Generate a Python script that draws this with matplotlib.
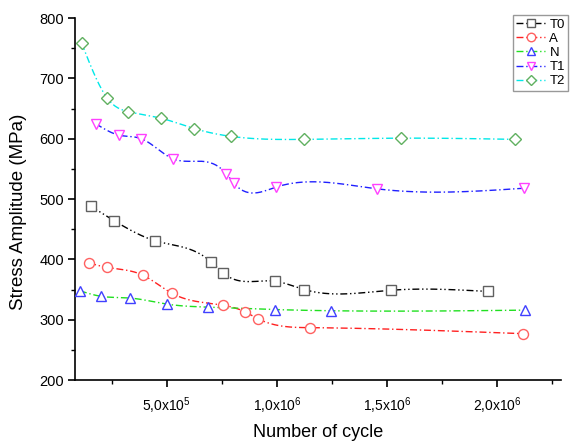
import matplotlib
matplotlib.use('Agg')
import matplotlib.pyplot as plt
from matplotlib.lines import Line2D
from matplotlib.ticker import MultipleLocator, FixedLocator
import numpy as np

plt.rcParams['font.family'] = ['Liberation Sans', 'DejaVu Sans']
plt.rcParams['mathtext.fontset'] = 'custom'
plt.rcParams['mathtext.rm'] = 'Liberation Sans'

# data (cycles, MPa)
t0_x = [0.156e6, 0.262e6, 0.447e6, 0.701e6, 0.757e6, 0.989e6, 1.125e6, 1.518e6, 1.957e6]
t0_y = [488, 464, 431, 396, 377, 364, 350, 349, 347]
a_x = [0.148e6, 0.227e6, 0.391e6, 0.523e6, 0.757e6, 0.856e6, 0.912e6, 1.151e6, 2.118e6]
a_y = [394, 387, 374, 344, 324, 313, 302, 287, 277]
n_x = [0.106e6, 0.200e6, 0.335e6, 0.500e6, 0.686e6, 0.989e6, 1.245e6, 2.124e6]
n_y = [348, 339, 336, 326, 321, 317, 315, 316]
t1_x = [0.177e6, 0.283e6, 0.385e6, 0.527e6, 0.770e6, 0.805e6, 0.997e6, 1.455e6, 2.120e6]
t1_y = [625, 606, 600, 567, 542, 526, 520, 517, 518]
t2_x = [0.114e6, 0.230e6, 0.325e6, 0.474e6, 0.624e6, 0.791e6, 1.125e6, 1.565e6, 2.080e6]
t2_y = [758, 667, 645, 634, 617, 604, 599, 601, 599]

labels = ['T0', 'A', 'N', 'T1', 'T2']
xticks = [5e5, 1e6, 1.5e6, 2e6]
xticklabels = [r'5,0x10$^5$', r'1,0x10$^6$', r'1,5x10$^6$', r'2,0x10$^6$']


def natural_spline(x, y, n=300):
    # natural cubic spline through the points, used only for the connecting line
    x = np.asarray(x, float)
    y = np.asarray(y, float)
    k = len(x)
    h = np.diff(x)
    A = np.zeros((k, k))
    b = np.zeros(k)
    A[0, 0] = 1
    A[-1, -1] = 1
    for i in range(1, k - 1):
        A[i, i - 1] = h[i - 1]
        A[i, i] = 2 * (h[i - 1] + h[i])
        A[i, i + 1] = h[i]
        b[i] = 6 * ((y[i + 1] - y[i]) / h[i] - (y[i] - y[i - 1]) / h[i - 1])
    m = np.linalg.solve(A, b)
    xs = np.linspace(x[0], x[-1], n)
    idx = np.clip(np.searchsorted(x, xs) - 1, 0, k - 2)
    x0, x1 = x[idx], x[idx + 1]
    hh = x1 - x0
    t0 = x1 - xs
    t1 = xs - x0
    ys = (m[idx] * t0 ** 3 + m[idx + 1] * t1 ** 3) / (6 * hh) \
        + (y[idx] / hh - m[idx] * hh / 6) * t0 \
        + (y[idx + 1] / hh - m[idx + 1] * hh / 6) * t1
    return xs, ys


fig = plt.figure(figsize=(5.72, 4.41), dpi=100)
ax = fig.add_axes([0.131, 0.138, 0.85, 0.821])

series = [
    (t0_x, t0_y, 'black', '#606060', 's', (0, (5, 2, 1, 2, 1, 2))),
    (a_x, a_y, '#ff2020', '#ff6060', 'o', (0, (5, 2, 1, 2))),
    (n_x, n_y, '#20e020', '#4040ff', '^', (0, (5, 2, 1, 2))),
    (t1_x, t1_y, '#2020ff', '#ff40ff', 'v', (0, (5, 2, 1, 2))),
    (t2_x, t2_y, '#00e8e8', '#60b060', 'D', (0, (5, 2, 1, 2))),
]

handles = []
for (xs, ys, lc, mc, mk, ls), lab in zip(series, labels):
    sx, sy = natural_spline(xs, ys)
    ax.plot(sx, sy, color=lc, lw=1.0, linestyle=ls, zorder=2)
    ms = 6.3 if mk == 'D' else 7.2
    ax.plot(xs, ys, linestyle='none', marker=mk, markersize=ms,
            markerfacecolor='white', markeredgecolor=mc, markeredgewidth=1.0, zorder=3)
    handles.append(Line2D([], [], color=lc, lw=1.0, linestyle=ls, marker=mk,
                          markersize=ms * 0.85, markerfacecolor='white',
                          markeredgecolor=mc, markeredgewidth=1.0, label=lab))

ax.set_xlim(0.083e6, 2.29e6)
ax.set_ylim(200, 800)
ax.spines['top'].set_visible(False)
ax.spines['right'].set_visible(False)
ax.spines['left'].set_linewidth(1.2)
ax.spines['bottom'].set_linewidth(1.2)

ax.xaxis.set_major_locator(FixedLocator(xticks))
ax.set_xticklabels(xticklabels)
ax.xaxis.set_minor_locator(MultipleLocator(2.5e5))
ax.yaxis.set_major_locator(MultipleLocator(100))
ax.yaxis.set_minor_locator(MultipleLocator(50))
ax.tick_params(which='major', direction='out', length=5, width=1.2, labelsize=10.5, pad=3)
ax.tick_params(which='minor', direction='out', length=3, width=1.0)
ax.tick_params(axis='x', which='major', pad=6, labelsize=10)

ax.set_xlabel('Number of cycle', fontsize=13, labelpad=6)
ax.set_ylabel('Stress Amplitude (MPa)', fontsize=13.5)
ax.yaxis.set_label_coords(-0.099, 0.464)

leg = fig.legend(handles=handles, loc='upper right', bbox_to_anchor=(0.998, 0.972),
                 fontsize=9.5, frameon=True, fancybox=False, handlelength=2.2,
                 handletextpad=0.3, borderpad=0.25, labelspacing=0.15,
                 borderaxespad=0.2)
leg.get_frame().set_edgecolor('#808080')
leg.get_frame().set_linewidth(1.0)

fig.savefig('out.png', dpi=100)
